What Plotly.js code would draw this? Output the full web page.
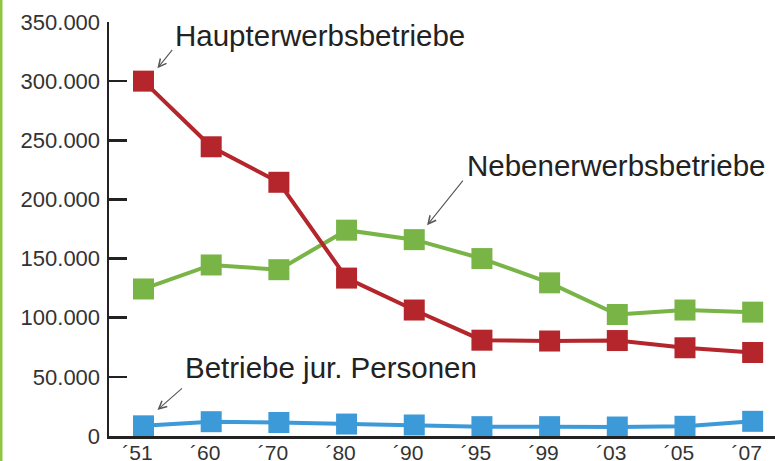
<!DOCTYPE html>
<html>
<head>
<meta charset="utf-8">
<script src="https://cdn.plot.ly/plotly-3.0.1.min.js"></script>
<style>
html,body{margin:0;padding:0;background:#fff;}
#chart{width:775px;height:461px;}
</style>
</head>
<body>
<div id="chart"></div>
<script>
const years = ["´51","´60","´70","´80","´90","´95","´99","´03","´05","´07"];
const haupterwerb = [300000, 244500, 214500, 133500, 106500, 81000, 80300, 80700, 74600, 70600];
const nebenerwerb = [124300, 144600, 140600, 174000, 166000, 150000, 129500, 102700, 106500, 104700];
const juristisch = [8600, 12100, 11400, 10100, 9300, 7900, 7900, 7600, 8200, 12400];
const yTickVals = [0, 50000, 100000, 150000, 200000, 250000, 300000, 350000];
const yTickText = ["0","50.000","100.000","150.000","200.000","250.000","300.000","350.000"];

const idx = years.map((_, i) => i);
function series(y, color) {
  return {
    x: idx, y: y, type: 'scatter', mode: 'lines+markers',
    line: {color: color, width: 4},
    marker: {symbol: 'square', size: 21, color: color, line: {width: 0}},
    cliponaxis: false, hoverinfo: 'skip', showlegend: false
  };
}
const data = [
  series(juristisch, '#3D9AD9'),
  series(nebenerwerb, '#79B447'),
  series(haupterwerb, '#B4262C')
];

const labelFont = {family: 'Liberation Sans, Arial, sans-serif', size: 29.5, color: '#222'};
function label(text, x, y) {
  return {text: text, x: x, y: y, xref: 'x', yref: 'y', xanchor: 'left', yanchor: 'middle',
          showarrow: false, font: labelFont};
}
function arrow(x, y, ax, ay) {
  return {text: '', x: x, y: y, xref: 'x', yref: 'y', ax: ax, ay: ay,
          showarrow: true, arrowhead: 5, arrowsize: 1.4, arrowwidth: 1.1, arrowcolor: '#555',
          font: {size: 1}};
}

const layout = {
  width: 775, height: 461,
  margin: {l: 109, r: 0, t: 22, b: 25},
  paper_bgcolor: '#fff', plot_bgcolor: '#fff',
  font: {family: 'Liberation Sans, Arial, sans-serif', size: 22, color: '#333'},
  xaxis: {
    range: [-0.51, 9.33], tickvals: idx, ticktext: years,
    showgrid: false, zeroline: false, showline: true, linecolor: '#222', linewidth: 2.5,
    ticks: '', ticklabelstandoff: -4, ticklabelshift: -6, fixedrange: true,
    tickfont: {size: 21, color: '#333'}
  },
  yaxis: {
    range: [0, 350000], tickvals: yTickVals, ticktext: yTickText,
    showgrid: false, zeroline: false, showline: true, linecolor: '#222', linewidth: 2.5,
    ticks: 'inside', ticklen: 18, tickwidth: 2.5, tickcolor: '#222',
    ticklabelstandoff: 2, fixedrange: true,
    tickfont: {size: 22, color: '#333'}
  },
  shapes: [{
    type: 'rect', xref: 'paper', yref: 'paper',
    x0: -109/666, x1: -106.5/666, y0: -25/414, y1: 1 + 22/414,
    fillcolor: '#8DC63F', line: {width: 0}, layer: 'below'
  }],
  annotations: [
    label('Haupterwerbsbetriebe', 0.43, 338500),
    arrow(0.206, 310800, 16, -20),
    label('Nebenerwerbsbetriebe', 4.75, 229000),
    arrow(4.19, 178200, 37, -46),
    label('Betriebe jur. Personen', 0.58, 58300),
    arrow(0.206, 22000, 26, -23)
  ]
};

Plotly.newPlot('chart', data, layout, {displayModeBar: false, staticPlot: true});
</script>
</body>
</html>
